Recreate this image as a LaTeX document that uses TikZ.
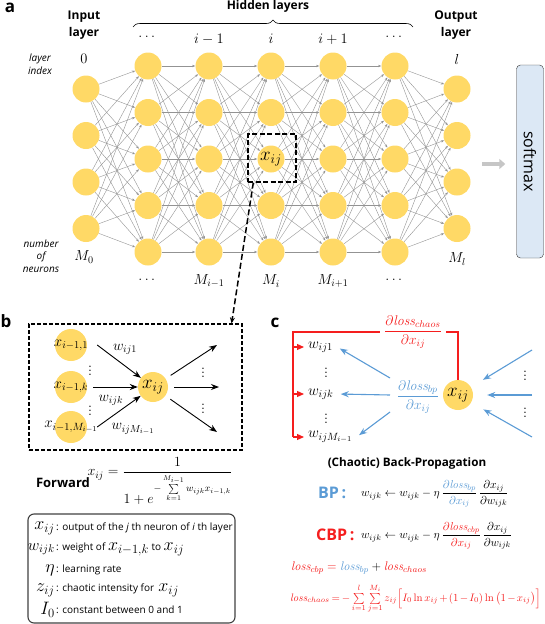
\RequirePackage{fix-cm}
\documentclass[tikz,border=0pt]{standalone}
\usepackage{amsmath}
\usepackage{fontspec}
\setsansfont{Open Sans}
\usetikzlibrary{arrows.meta,positioning,calc,decorations.pathreplacing}
\definecolor{neuronyellow}{RGB}{255,217,102}
\definecolor{bpblue}{RGB}{91,155,213}
\definecolor{cbpred}{RGB}{245,30,30}
\definecolor{smfill}{RGB}{220,232,245}
\newcommand{\fsz}[2]{\fontsize{#1}{#2}\selectfont}
\newcommand{\legmath}[1]{{\fsz{18}{18}#1}}

\begin{document}
\begin{tikzpicture}[x=1pt, y=-1pt, every node/.style={inner sep=1pt},
  neuron/.style={circle, fill=neuronyellow, minimum size=27pt, inner sep=0pt},
  link/.style={draw=gray!85, line width=0.4pt, -{Stealth[length=3.2pt,width=2.4pt]}},
  head/.style={font=\sffamily\bfseries\fsz{12}{17}, align=center},
  side/.style={font=\sffamily\itshape\fsz{10}{12.5}, align=center},
  mlbl/.style={font=\fsz{14.5}{16}},
  panel/.style={font=\sffamily\bfseries\fsz{17}{17}},
  fwd/.style={draw=black, line width=0.9pt, -{Stealth[length=8pt,width=6pt]}},
  redline/.style={draw=cbpred, line width=1.2pt},
  redarrow/.style={redline, -{Triangle[length=7pt,width=6pt]}},
  bparrow/.style={draw=bpblue, line width=1.1pt, -{Stealth[length=8pt,width=6pt]}},
  dashlink/.style={draw=black, line width=1.5pt, dash pattern=on 6pt off 3pt, -{Stealth[length=6pt,width=5pt]}}
]
\useasboundingbox (0,0) rectangle (544,624);

% (a) Network
\node[panel] (pa) at (10,8) {a};
\node[head] (inhead) at (84,25) {Input\\layer};
\node[head] (hidhead) at (268,6) {Hidden layers};
\node[head] (outhead) at (456,25) {Output\\layer};
\draw[decorate, decoration={brace, amplitude=7pt}, line width=0.6pt] (133,27) -- (413,27);

\node[side] (lidx) at (40,64) {layer\\index};
\node[side] (nneu) at (41,256) {number\\of\\neurons};

% layer indices
\node[mlbl] (ix0) at (84,59) {$0$};
\node[mlbl] (ix1) at (148,37) {$\dots$};
\node[mlbl] (ix2) at (209,39) {$i-1$};
\node[mlbl] (ix3) at (271,39) {$i$};
\node[mlbl] (ix4) at (333,39) {$i+1$};
\node[mlbl] (ix5) at (395,37) {$\dots$};
\node[mlbl] (ix6) at (457,59) {$l$};

% neuron counts
\node[mlbl] (nm0) at (84,257) {$M_0$};
\node[mlbl] (nm1) at (148,280) {$\dots$};
\node[mlbl] (nm2) at (209,281) {$M_{i-1}$};
\node[mlbl] (nm3) at (271,281) {$M_i$};
\node[mlbl] (nm4) at (333,281) {$M_{i+1}$};
\node[mlbl] (nm5) at (395,280) {$\dots$};
\node[mlbl] (nm6) at (457,259) {$M_l$};

% Layers: index/x/number of neurons
\foreach \l/\x/\n in {0/86/4,1/148/5,2/209/5,3/271/5,4/333/5,5/395/5,6/457/4} {
  \foreach \k in {1,...,\n} {
    \node[neuron] (n-\l-\k) at (\x,{66+(\k-1)*46.5+(5-\n)*23}) {};
  }
}
% Full connections
\foreach \l/\m/\na/\nb in {0/1/4/5,1/2/5/5,2/3/5/5,3/4/5/5,4/5/5/5,5/6/5/4} {
  \foreach \a in {1,...,\na} {
    \foreach \b in {1,...,\nb} {
      \draw[link] (n-\l-\a) -- (n-\m-\b);
    }
  }
}
\node[font=\fsz{19}{19}] (xa) at (n-3-3) {$x_{ij}$};
\node[draw, line width=1.4pt, dash pattern=on 5pt off 2.5pt, minimum size=48pt] (zoom) at (272,158) {};

% softmax
\node[draw=black!80, fill=smfill, rounded corners=4pt, rotate=-90, minimum width=193pt, minimum height=27pt,
  font=\sffamily\fsz{16}{16}] (softmax) at (530,161.5) {softmax};
\coordinate (smin) at (482,164);
\draw[draw=gray!45, line width=4pt, -{Triangle[length=6pt,width=10pt]}] (smin) -- (smin -| softmax.south) [shorten >=11pt];

% (b) Forward
\node[panel] (pb) at (6,321) {b};
\node[draw, line width=1.1pt, dash pattern=on 4pt off 2pt, minimum width=213pt, minimum height=126pt] (fwdbox) at (135.5,387) {};
\draw[dashlink] ([xshift=6pt]zoom.south west) -- ([xshift=-11pt]fwdbox.north east);

\node[neuron, minimum size=32pt] (pa1) at (71,345) {};
\node[neuron, minimum size=32pt] (pak) at (71,387) {};
\node[neuron, minimum size=32pt] (paM) at (71,427) {};
\node[neuron, minimum size=30pt] (xb) at (153,387) {};
\node[font=\fsz{15}{15}] (pa1t) at (pa1) {$x_{i-1,1}$};
\node[font=\fsz{15}{15}] (pakt) at (pak) {$x_{i-1,k}$};
\node[font=\fsz{15}{15}] (paMt) at (paM) {$x_{i-1,M_{i-1}}$};
\node[font=\fsz{19}{19}] (xbt) at (xb) {$x_{ij}$};
\node[mlbl] (bd1) at (90,368) {$\vdots$};
\node[mlbl] (bd2) at (90,408) {$\vdots$};

\draw[fwd] ([xshift=10pt]pa1.east) -- (xb);
\draw[fwd] ([xshift=6pt]pak.east) -- (xb);
\draw[fwd] ([xshift=10pt]paM.east) -- (xb);
\node[mlbl] (wb1) at (125,349) {$w_{ij1}$};
\node[mlbl] (wbk) at (111,400) {$w_{ijk}$};
\node[mlbl] (wbM) at (133,429) {$w_{ijM_{i-1}}$};

\coordinate (ob1) at (217,345);
\coordinate (ob2) at (219,387);
\coordinate (ob3) at (217,432);
\foreach \o in {ob1,ob2,ob3} {
  \draw[fwd, shorten <=6pt] (xb) -- (\o);
}
\node[mlbl] (bd3) at (203,370) {$\vdots$};
\node[mlbl] (bd4) at (203,406) {$\vdots$};

\node[font=\sffamily\bfseries\fsz{13}{13}] (fwdlbl) at (63,483) {Forward};
\node[font=\fsz{14}{16}] (fwdeq) at (160,481)
  {$x_{ij}=\dfrac{1}{1+e^{-\sum\limits_{k=1}^{M_{i-1}} w_{ijk}x_{i-1,k}}}$};

% legend
\node[draw=black!75, rounded corners=6pt, line width=1.1pt, minimum width=207pt, minimum height=109pt] (legend) at (131.5,568.5) {};
\foreach \y/\sym/\txt [count=\r] in {
  528/{$x_{ij}$}/{output of the \textit{j} th neuron of \textit{i} th layer},
  549/{\fsz{16}{16}$w_{ijk}$}/{weight of \legmath{$x_{i-1,k}$} to \legmath{$x_{ij}$}},
  570/{$\eta$}/{learning rate},
  590/{$z_{ij}$}/{chaotic intensity for\, \legmath{$x_{ij}$}},
  610/{$I_0$}/{constant between 0 and 1}} {
  \node[anchor=east, font=\fsz{18}{18}] (ls\r) at (56,\y) {\sym};
  \node[anchor=west, font=\sffamily\fsz{10}{12}] (lt\r) at (55,\y) {: \txt};
}

% (c) Back-propagation
\node[panel] (pc) at (275,323) {c};
\node[neuron, minimum size=30pt] (xc) at (458,395) {};
\node[font=\fsz{19}{19}] (xct) at (xc) {$x_{ij}$};

\node[font=\fsz{14}{16}, text=cbpred, inner sep=4pt] (chaosfrac) at (413,332)
  {$\dfrac{\partial\mathit{loss}_{chaos}}{\partial x_{ij}}$};
\node[font=\fsz{14}{16}, text=bpblue, inner sep=3pt] (bpfrac) at (418,397)
  {$\dfrac{\partial\mathit{loss}_{bp}}{\partial x_{ij}}$};

\node[font=\fsz{15}{15}, anchor=west, inner sep=4pt] (wc1) at (304,347) {$w_{ij1}$};
\node[font=\fsz{15}{15}, anchor=west, inner sep=4pt] (wck) at (304,394) {$w_{ijk}$};
\node[font=\fsz{15}{15}, anchor=west, inner sep=4pt] (wcM) at (304,437) {$w_{ijM_{i-1}}$};
\node[mlbl] (cd1) at (326,370) {$\vdots$};
\node[mlbl] (cd2) at (326,416) {$\vdots$};

\coordinate (redc) at (293,437);
\draw[redline] (xc.north) |- (chaosfrac.east);
\draw[redline] (chaosfrac.west) -| (redc);
\foreach \w in {wc1,wck,wcM} {
  \draw[redarrow] (redc |- \w.west) -- (\w.west);
}

\coordinate (bs1) at (390,378);
\coordinate (bs2) at (390,395);
\coordinate (bs3) at (390,412);
\draw[bparrow, shorten >=3pt] (bs1) -- (wc1.east);
\draw[bparrow, shorten >=3pt] (bs2) -- (wck.east);
\draw[bparrow, shorten >=3pt] (bs3) -- (wcM.east);

\coordinate (rs1) at (532,350);
\coordinate (rs2) at (532,395);
\coordinate (rs3) at (532,437);
\foreach \r in {rs1,rs2,rs3} {
  \draw[bparrow, shorten >=14pt] (\r) -- (xc);
}
\node[mlbl] (cd3) at (525,373) {$\vdots$};
\node[mlbl] (cd4) at (525,410) {$\vdots$};

\node[font=\sffamily\bfseries\fsz{11.7}{13}] (bptitle) at (407,463) {(Chaotic) Back-Propagation};

\node[anchor=west, font=\sffamily\bfseries\fsz{16}{16}, text=bpblue] (bplbl) at (317,493) {BP\,:};
\node[anchor=west, font=\fsz{11.5}{13}] (bpeq) at (360,494)
  {$w_{ijk}\leftarrow w_{ijk}-\eta\,\dfrac{\color{bpblue}\partial\mathit{loss}_{bp}}{\color{bpblue}\partial x_{ij}}\,\dfrac{\partial x_{ij}}{\partial w_{ijk}}$};
\node[anchor=west, font=\sffamily\bfseries\fsz{16}{16}, text=cbpred] (cbplbl) at (315,535) {CBP\,:};
\node[anchor=west, font=\fsz{11.5}{13}] (cbpeq) at (360,536)
  {$w_{ijk}\leftarrow w_{ijk}-\eta\,\dfrac{\color{cbpred}\partial\mathit{loss}_{cbp}}{\color{cbpred}\partial x_{ij}}\,\dfrac{\partial x_{ij}}{\partial w_{ijk}}$};

\node[anchor=west, font=\fsz{12.5}{14}] (losseq) at (290,568)
  {$\color{cbpred}\mathit{loss}_{cbp}={\color{bpblue}\mathit{loss}_{bp}}\color{black}+\color{cbpred}\mathit{loss}_{chaos}$};
\node[anchor=west, font=\fsz{10.8}{13}, text=cbpred] (chaoseq) at (289,599)
  {$\medmuskip=2mu\thickmuskip=3mu\mathit{loss}_{chaos}=-\sum\limits_{i=1}^{l}\sum\limits_{j=1}^{M_i} z_{ij}\Big[I_0\ln x_{ij}+(1-I_0)\ln\big(1-x_{ij}\big)\Big]$};

\end{tikzpicture}
\end{document}
